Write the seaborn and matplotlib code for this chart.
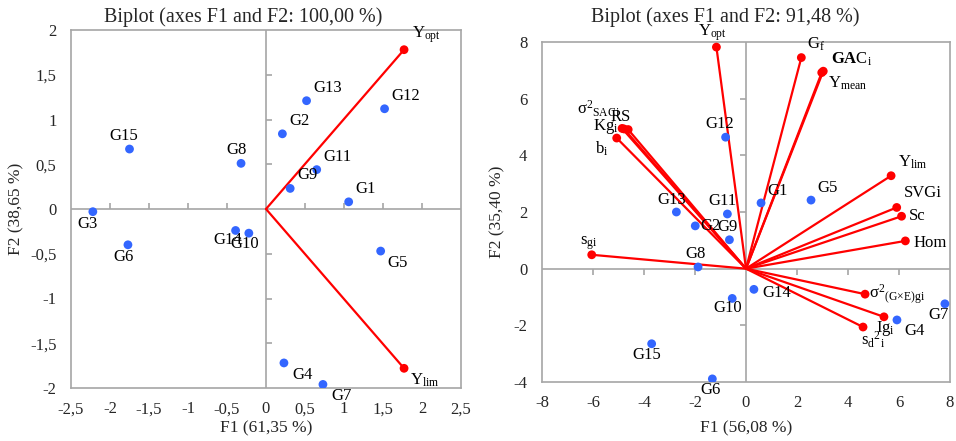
import numpy as np
import pandas as pd
import matplotlib
matplotlib.use("Agg")
import matplotlib.pyplot as plt
import seaborn as sns
from matplotlib.ticker import FuncFormatter

# LEFT BIPLOT - genotypes
g1_names = ['G1', 'G2', 'G3', 'G4', 'G5', 'G6', 'G7', 'G8', 'G9', 'G10',
            'G11', 'G12', 'G13', 'G14', 'G15']
g1_f1 = [1.06, 0.21, -2.22, 0.23, 1.47, -1.77, 0.73, -0.32, 0.31, -0.22,
         0.65, 1.52, 0.52, -0.39, -1.75]
g1_f2 = [0.08, 0.84, -0.03, -1.72, -0.47, -0.40, -1.96, 0.51, 0.23, -0.27,
         0.44, 1.12, 1.21, -0.24, 0.67]
# LEFT BIPLOT - variables
v1_names = ['Yopt', 'Ylim']
v1_f1 = [1.77, 1.77]
v1_f2 = [1.78, -1.78]

# RIGHT BIPLOT - genotypes
g2_names = ['G1', 'G2', 'G4', 'G5', 'G6', 'G7', 'G8', 'G9', 'G10', 'G11',
            'G12', 'G13', 'G14', 'G15']
g2_f1 = [0.59, -1.99, 5.92, 2.55, -1.32, 7.80, -1.88, -0.65, -0.54, -0.73,
         -0.80, -2.73, 0.31, -3.70]
g2_f2 = [2.32, 1.51, -1.81, 2.42, -3.89, -1.24, 0.06, 1.02, -1.05, 1.93,
         4.64, 2.00, -0.73, -2.65]
# RIGHT BIPLOT - variables
v2_names = ['Yopt', 'Gf', 'GACi', 'Ymean', 'sSACi', 'RS', 'Kgi', 'bi', 'Ylim',
            'SVGi', 'Sc', 'Hom', 'sgi', 'sGEgi', 'Igi', 'sd2i']
v2_f1 = [-1.16, 2.17, 3.03, 2.97, -4.86, -4.62, -4.78, -5.07, 5.69,
         5.91, 6.10, 6.25, -6.05, 4.67, 5.41, 4.59]
v2_f2 = [7.82, 7.45, 6.97, 6.92, 4.95, 4.91, 4.93, 4.61, 3.28,
         2.16, 1.85, 0.98, 0.49, -0.90, -1.70, -2.06]

# texts for the variable labels
var_text = {
    'Yopt': r'$\mathrm{Y_{opt}}$',
    'Ylim': r'$\mathrm{Y_{lim}}$',
    'Ymean': r'$\mathrm{Y_{mean}}$',
    'Gf': r'$\mathrm{G_f}$',
    'GACi': r'$\mathbf{GA}\mathrm{C_i}$',
    'sSACi': r'$\mathrm{σ^2{}_{SACi}}$',
    'RS': 'RS',
    'Kgi': r'$\mathrm{Kg_i}$',
    'bi': r'$\mathrm{b_i}$',
    'SVGi': 'SVGi',
    'Sc': 'Sc',
    'Hom': 'Hom',
    'sgi': r'$\mathrm{s_{gi}}$',
    'sGEgi': r'$\mathrm{σ^2{}_{(G×E)gi}}$',
    'Igi': r'$\mathrm{Ig_i}$',
    'sd2i': r'$\mathrm{s_d{}^2{}_i}$',
}

# label placement (offset pixels, ha, va)
pos_left = {
    'G1': (7, 5, 'left', 'bottom'), 'G2': (7, 5, 'left', 'bottom'),
    'G3': (-5, -4, 'center', 'top'), 'G4': (8, -4, 'left', 'top'),
    'G5': (7, -4, 'left', 'top'), 'G6': (-4, -4, 'center', 'top'),
    'G7': (8, -4, 'left', 'top'), 'G8': (-4, 5, 'center', 'bottom'),
    'G9': (7, 5, 'left', 'bottom'), 'G10': (-4, -3, 'center', 'top'),
    'G11': (7, 5, 'left', 'bottom'), 'G12': (7, 5, 'left', 'bottom'),
    'G13': (7, 5, 'left', 'bottom'), 'G14': (-8, -2, 'center', 'top'),
    'G15': (-6, 5, 'center', 'bottom'),
    'Yopt': (8, 5, 'left', 'bottom'), 'Ylim': (6, -3, 'left', 'top'),
}
pos_right = {
    'G1': (6, 4, 'left', 'bottom'), 'G2': (5, 0, 'left', 'center'),
    'G4': (7, -3, 'left', 'top'), 'G5': (6, 4, 'left', 'bottom'),
    'G6': (-2, -3, 'center', 'top'), 'G7': (-6, -3, 'center', 'top'),
    'G8': (-2, 5, 'center', 'bottom'), 'G9': (-2, 5, 'center', 'bottom'),
    'G10': (-5, -2, 'center', 'top'), 'G11': (-5, 5, 'center', 'bottom'),
    'G12': (-6, 5, 'center', 'bottom'), 'G13': (-5, 4, 'center', 'bottom'),
    'G14': (8, -4, 'left', 'center'), 'G15': (-5, -3, 'center', 'top'),
    'Yopt': (-4, 4, 'center', 'bottom'), 'Gf': (6, 5, 'left', 'bottom'),
    'GACi': (8, 3, 'left', 'bottom'), 'Ymean': (6, -2, 'left', 'top'),
    'sSACi': (-2, 9, 'right', 'bottom'), 'RS': (-8, 5, 'center', 'bottom'),
    'Kgi': (-6, 2, 'right', 'center'), 'bi': (-8, -2, 'right', 'top'),
    'sgi': (-3, 3, 'center', 'bottom'), 'Ylim': (7, 5, 'left', 'bottom'),
    'SVGi': (7, 6, 'left', 'bottom'), 'Sc': (7, 0, 'left', 'center'),
    'Hom': (8, -2, 'left', 'center'), 'sGEgi': (4, 0, 'left', 'center'),
    'Igi': (2, -2, 'center', 'top'), 'sd2i': (-2, -3, 'left', 'top'),
}

sns.set_style("white")
plt.rcParams['font.family'] = ['Liberation Serif', 'DejaVu Serif']
plt.rcParams['mathtext.fontset'] = 'custom'
plt.rcParams['mathtext.rm'] = 'Liberation Serif'
plt.rcParams['mathtext.bf'] = 'Liberation Serif:bold'
plt.rcParams['mathtext.it'] = 'Liberation Serif:italic'

BLUE = '#3366FF'
RED = '#FF0000'
GREY = '#A6A6A6'

W, H = 956, 441
fig = plt.figure(figsize=(W / 100, H / 100), dpi=100)


def comma(v, pos):
    s = ('%g' % v).replace('.', ',')
    return s


def biplot(ax, gx, gy, gn, vx, vy, vn, xt, yt, pos, tick_dir):
    xlim = (xt[0], xt[-1])
    ylim = (yt[0], yt[-1])
    ax.set_xlim(xlim)
    ax.set_ylim(ylim)
    ax.set_xticks(xt)
    ax.set_yticks(yt)
    ax.xaxis.set_major_formatter(FuncFormatter(comma))
    ax.yaxis.set_major_formatter(FuncFormatter(comma))
    ax.tick_params(length=0, labelsize=12)
    ax.tick_params(axis='x', pad=9.5)
    ax.tick_params(axis='y', pad=10.5)
    for s in ax.spines.values():
        s.set_color(GREY)
        s.set_linewidth(1.2)
    # zero axes with their small ticks
    ax.axhline(0, color=GREY, lw=1.2, zorder=1)
    ax.axvline(0, color=GREY, lw=1.2, zorder=1)
    bb = ax.get_position()
    dx = (xlim[1] - xlim[0]) * 6 / (bb.width * W)
    dy = (ylim[1] - ylim[0]) * 6 / (bb.height * H)
    inner_x = [t for t in xt[1:-1] if t != 0]
    inner_y = [t for t in yt[1:-1] if t != 0]
    ax.vlines(inner_x, 0, tick_dir * dy, color=GREY, lw=1.2, zorder=1)
    ax.hlines(inner_y, 0, tick_dir * dx, color=GREY, lw=1.2, zorder=1)

    # variable vectors
    for x, y in zip(vx, vy):
        ax.plot([0, x], [0, y], color=RED, lw=1.6, zorder=2)
    vdf = pd.DataFrame({'F1': vx, 'F2': vy})
    sns.scatterplot(data=vdf, x='F1', y='F2', color=RED, s=40,
                    edgecolor='none', ax=ax, zorder=3)
    # genotypes
    gdf = pd.DataFrame({'F1': gx, 'F2': gy})
    sns.scatterplot(data=gdf, x='F1', y='F2', color=BLUE, s=40,
                    edgecolor='none', ax=ax, zorder=4)
    ax.set_xlabel('')
    ax.set_ylabel('')

    for x, y, n in list(zip(gx, gy, gn)) + list(zip(vx, vy, vn)):
        ox, oy, ha, va = pos[n]
        ax.annotate(var_text.get(n, n), (x, y), xytext=(ox, oy),
                    textcoords='offset pixels', ha=ha, va=va,
                    fontsize=12, color='black', zorder=5,
                    annotation_clip=False)


ax1 = fig.add_axes([71 / W, 1 - 388 / H, 390 / W, 358 / H])
biplot(ax1, g1_f1, g1_f2, g1_names, v1_f1, v1_f2, v1_names,
       [-2.5, -2, -1.5, -1, -0.5, 0, 0.5, 1, 1.5, 2, 2.5],
       [-2, -1.5, -1, -0.5, 0, 0.5, 1, 1.5, 2], pos_left, 1)

ax2 = fig.add_axes([542 / W, 1 - 382 / H, 408 / W, 340 / H])
biplot(ax2, g2_f1, g2_f2, g2_names, v2_f1, v2_f2, v2_names,
       [-8, -6, -4, -2, 0, 2, 4, 6, 8],
       [-4, -2, 0, 2, 4, 6, 8], pos_right, -1)

fig.text(243 / W, 1 - 17 / H, 'Biplot (axes F1 and F2: 100,00 %)',
         ha='center', va='center', fontsize=14.5)
fig.text(725 / W, 1 - 17 / H, 'Biplot (axes F1 and F2: 91,48 %)',
         ha='center', va='center', fontsize=14.5)
fig.text(266 / W, 1 - 428 / H, 'F1 (61,35 %)', ha='center', va='center',
         fontsize=12.5)
fig.text(746 / W, 1 - 428 / H, 'F1 (56,08 %)', ha='center', va='center',
         fontsize=12.5)
fig.text(16 / W, 1 - 209 / H, 'F2 (38,65 %)', ha='center', va='center',
         rotation=90, fontsize=12.5)
fig.text(497 / W, 1 - 212 / H, 'F2 (35,40 %)', ha='center', va='center',
         rotation=90, fontsize=12.5)

fig.savefig('out.png', dpi=100)
